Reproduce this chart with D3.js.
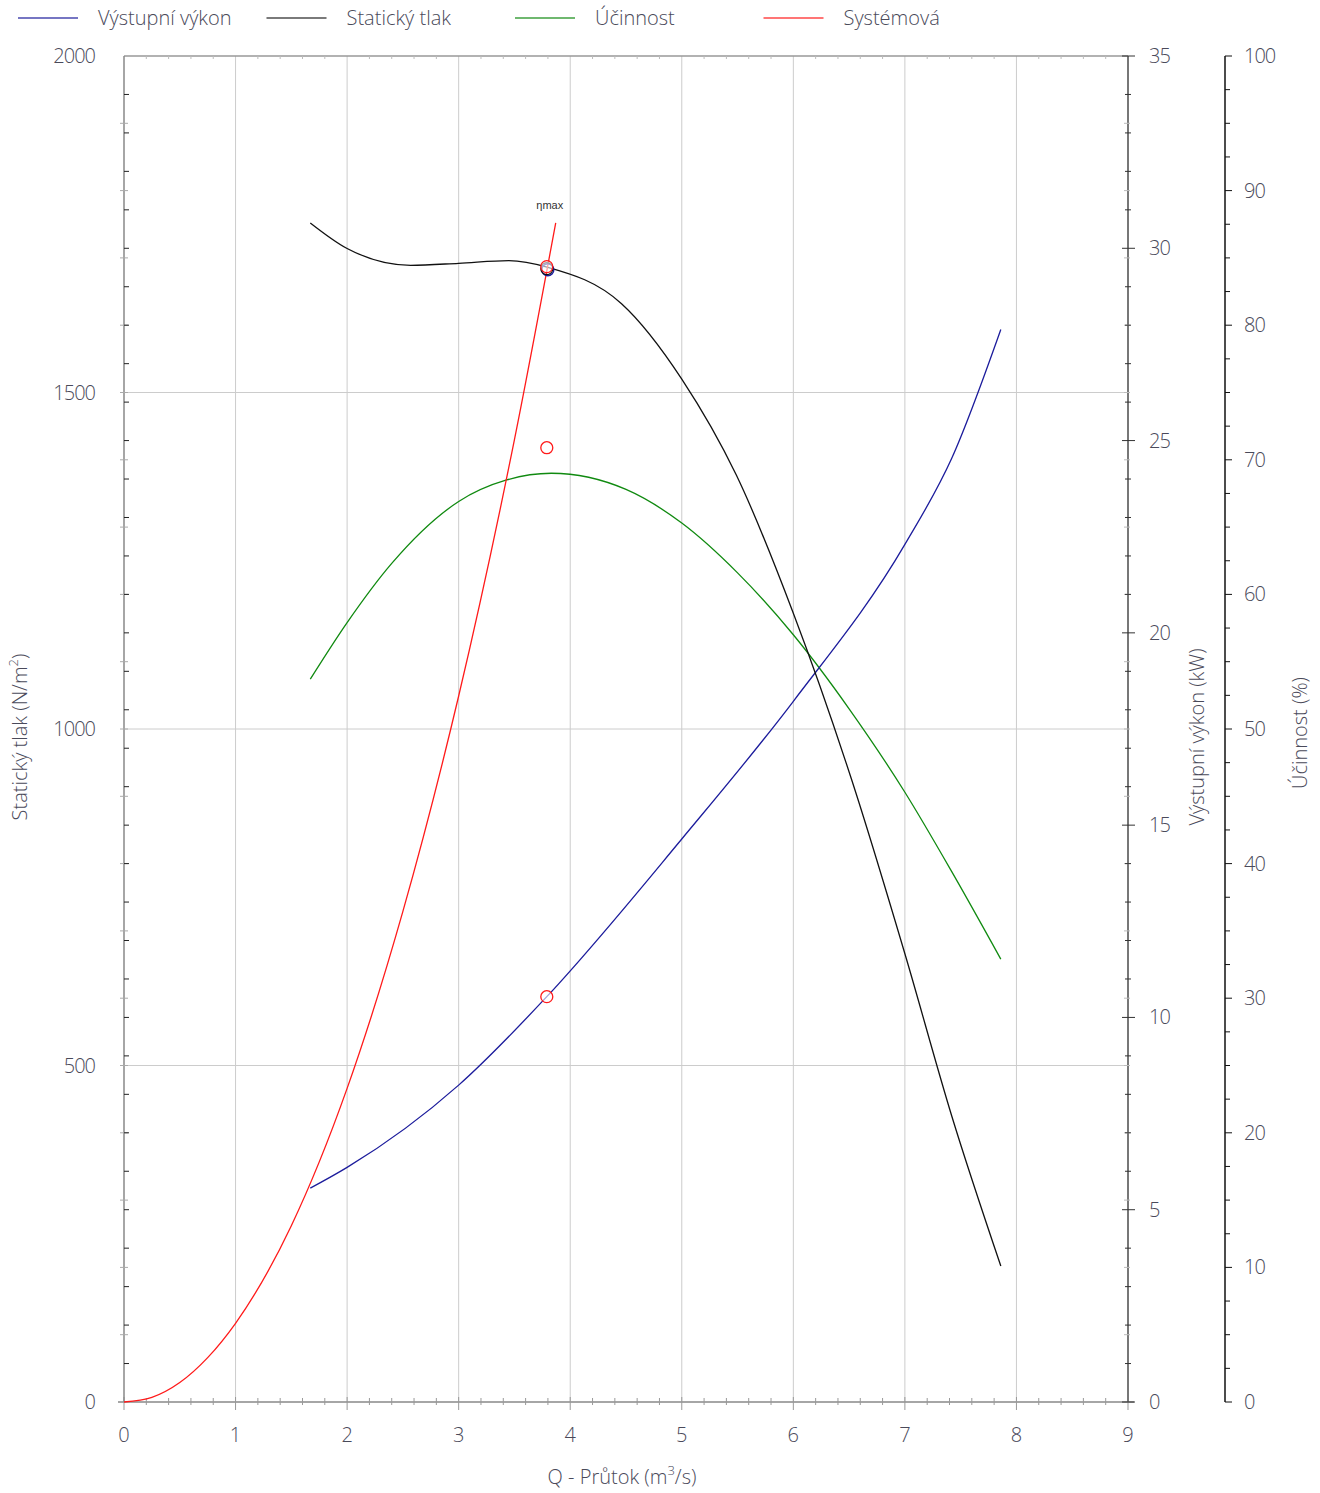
<!DOCTYPE html>
<html>
<head>
<meta charset="utf-8">
<script src="https://cdn.jsdelivr.net/npm/d3@7"></script>
<style>
  html, body { margin: 0; padding: 0; background: #fff; }
  svg { display: block; }
  text { font-family: "Open Sans", "Noto Sans", sans-serif; font-weight: 300; fill: #4a4a5a; }
</style>
</head>
<body>
<svg id="chart" width="1320" height="1493"></svg>
<script>
// Fan performance curves: flow Q (m³/s) on x
const flowPressure = [1.67, 2.0, 2.57, 3.0, 3.45, 3.80, 4.46, 5.0, 5.49, 6.0, 6.52, 7.0, 7.42, 7.86];
const staticPressure = [1752, 1714, 1689, 1692, 1696, 1686, 1632, 1520, 1377, 1172, 926, 666, 425, 202];

const flowPower = [1.67, 2.0, 3.0, 3.79, 5.0, 6.0, 7.0, 7.42, 7.86];
const outputPower = [5.56, 6.10, 8.24, 10.54, 14.64, 18.22, 22.30, 24.54, 27.89];

const flowEff = [1.67, 2.0, 2.4, 3.0, 3.43, 3.83, 4.5, 5.0, 5.5, 6.0, 6.5, 7.0, 7.42, 7.86];
const efficiency = [53.7, 57.9, 62.3, 66.9, 68.5, 69.0, 67.8, 65.3, 61.6, 57.0, 51.5, 45.3, 39.4, 32.9];

// System resistance curve
const flowSystem = [0, 0.25, 0.5, 0.75, 1.0, 1.5, 2.0, 2.5, 3.0, 3.5, 3.87];
const systemPressure = [0, 7, 29, 66, 117, 262, 466, 729, 1049, 1430, 1752];

// Operating point (max efficiency)
const opFlow = 3.79;
const opPressure = 1687;
const opPower = 10.54;
const opEfficiency = 70.9;

const xTicks = [0, 1, 2, 3, 4, 5, 6, 7, 8, 9];
const pressureTicks = [0, 500, 1000, 1500, 2000];
const powerTicks = [0, 5, 10, 15, 20, 25, 30, 35];
const effTicks = [0, 10, 20, 30, 40, 50, 60, 70, 80, 90, 100];

const legendNames = ["Výstupní výkon", "Statický tlak", "Účinnost", "Systémová"];
const legendColors = ["#1c1c9c", "#222222", "#108a10", "#ff1a1a"];

const svg = d3.select("#chart");
const L = 124, R = 1128, T = 56, B = 1402;

const x = d3.scaleLinear().domain([0, 9]).range([L, R]);
const yP = d3.scaleLinear().domain([0, 2000]).range([B, T]);
const yK = d3.scaleLinear().domain([0, 35]).range([B, T]);
const yE = d3.scaleLinear().domain([0, 100]).range([B, T]);

// grid
const grid = svg.append("g");
grid.selectAll("line.v").data(xTicks.filter(d => d > 0 && d < 9)).join("line")
  .attr("x1", d => x(d)).attr("x2", d => x(d)).attr("y1", T).attr("y2", B)
  .attr("stroke", "#cccccc").attr("stroke-width", 1);
grid.selectAll("line.h").data(pressureTicks.filter(d => d > 0 && d < 2000)).join("line")
  .attr("x1", L).attr("x2", R).attr("y1", d => yP(d)).attr("y2", d => yP(d))
  .attr("stroke", "#cccccc").attr("stroke-width", 1);
// top border
svg.append("line").attr("x1", L).attr("x2", R).attr("y1", T).attr("y2", T)
  .attr("stroke", "#999").attr("stroke-width", 1.5);

// bottom axis
const xAxisG = svg.append("g");
xAxisG.append("line").attr("x1", L - 6).attr("x2", R + 6).attr("y1", B).attr("y2", B)
  .attr("stroke", "#888").attr("stroke-width", 1.5);
const xMinor = d3.range(0, 45).map(i => i * 0.2).filter(d => Math.abs(d - Math.round(d)) > 1e-6);
xAxisG.selectAll("line.mn").data(xMinor).join("line")
  .attr("x1", d => x(d)).attr("x2", d => x(d)).attr("y1", B - 4).attr("y2", B + 3)
  .attr("stroke", "#999").attr("stroke-width", 1);
svg.append("g").selectAll("line").data(xMinor).join("line")
  .attr("x1", d => x(d)).attr("x2", d => x(d)).attr("y1", T).attr("y2", T + 3)
  .attr("stroke", "#bbb").attr("stroke-width", 1);
xAxisG.selectAll("line.mj").data(xTicks).join("line")
  .attr("x1", d => x(d)).attr("x2", d => x(d)).attr("y1", B - 5).attr("y2", B + 8)
  .attr("stroke", "#999").attr("stroke-width", 1);
xAxisG.selectAll("text").data(xTicks).join("text")
  .attr("x", d => x(d)).attr("y", B + 40).attr("text-anchor", "middle")
  .attr("font-size", 20).text(d => d);

// left axis
const leftG = svg.append("g");
leftG.append("line").attr("x1", L).attr("x2", L).attr("y1", T).attr("y2", B)
  .attr("stroke", "#888").attr("stroke-width", 1.5);
leftG.selectAll("line.g").data(d3.range(100, 2000, 100)).join("line")
  .attr("x1", L - 4).attr("x2", L + 4).attr("y1", d => yP(d)).attr("y2", d => yP(d))
  .attr("stroke", "#aaa").attr("stroke-width", 1);
leftG.selectAll("line.k").data(d3.range(1, 35)).join("line")
  .attr("x1", L).attr("x2", L + 5).attr("y1", d => yK(d)).attr("y2", d => yK(d))
  .attr("stroke", "#222").attr("stroke-width", 1);
leftG.selectAll("text").data(pressureTicks).join("text")
  .attr("x", 95).attr("y", d => yP(d) + 7).attr("text-anchor", "end")
  .attr("font-size", 20).attr("letter-spacing", -1).text(d => d);

// right power axis
const powG = svg.append("g");
powG.append("line").attr("x1", R).attr("x2", R).attr("y1", T).attr("y2", B)
  .attr("stroke", "#777").attr("stroke-width", 2);
powG.selectAll("line.g").data(d3.range(100, 2000, 100)).join("line")
  .attr("x1", R - 4).attr("x2", R + 2).attr("y1", d => yP(d)).attr("y2", d => yP(d))
  .attr("stroke", "#bbb").attr("stroke-width", 1);
powG.selectAll("line.mn").data(d3.range(0, 36).filter(d => d % 5 !== 0)).join("line")
  .attr("x1", R - 3).attr("x2", R + 3).attr("y1", d => yK(d)).attr("y2", d => yK(d))
  .attr("stroke", "#333").attr("stroke-width", 1);
powG.selectAll("line.mj").data(powerTicks).join("line")
  .attr("x1", R - 6).attr("x2", R + 7).attr("y1", d => yK(d)).attr("y2", d => yK(d))
  .attr("stroke", "#333").attr("stroke-width", 1);
powG.selectAll("text").data(powerTicks).join("text")
  .attr("x", 1149).attr("y", d => yK(d) + 7).attr("text-anchor", "start")
  .attr("font-size", 20).attr("letter-spacing", -1).text(d => d);

// right efficiency axis
const EX = 1225;
const effG = svg.append("g");
effG.append("line").attr("x1", EX).attr("x2", EX).attr("y1", T).attr("y2", B)
  .attr("stroke", "#111").attr("stroke-width", 1.5);
effG.selectAll("line.mn").data(d3.range(0, 101, 2.5).filter(d => d % 10 !== 0)).join("line")
  .attr("x1", EX).attr("x2", EX + 5).attr("y1", d => yE(d)).attr("y2", d => yE(d))
  .attr("stroke", "#111").attr("stroke-width", 1);
effG.selectAll("line.mj").data(effTicks).join("line")
  .attr("x1", EX).attr("x2", EX + 7).attr("y1", d => yE(d)).attr("y2", d => yE(d))
  .attr("stroke", "#111").attr("stroke-width", 1);
effG.selectAll("text").data(effTicks).join("text")
  .attr("x", 1244).attr("y", d => yE(d) + 7).attr("text-anchor", "start")
  .attr("font-size", 20).attr("letter-spacing", -1).text(d => d);

// axis titles
svg.append("text").attr("transform", `translate(27,737) rotate(-90)`)
  .attr("text-anchor", "middle").attr("font-size", 20)
  .html('Statický tlak (N/m<tspan baseline-shift="super" font-size="13">2</tspan>)');
svg.append("text").attr("transform", `translate(1204,737) rotate(-90)`)
  .attr("text-anchor", "middle").attr("font-size", 20).text("Výstupní výkon  (kW)");
svg.append("text").attr("transform", `translate(1307,733) rotate(-90)`)
  .attr("text-anchor", "middle").attr("font-size", 20).text("Účinnost (%)");
svg.append("text").attr("x", 622).attr("y", 1484)
  .attr("text-anchor", "middle").attr("font-size", 20)
  .html('Q - Průtok (m<tspan baseline-shift="super" font-size="13">3</tspan>/s)');

// curves (smooth monotone cubic through the read points)
function drawLine(xs, ys, yScale, color) {
  const pts = xs.map((q, i) => [q, ys[i]]);
  svg.append("path").datum(pts)
    .attr("d", d3.line().x(d => x(d[0])).y(d => yScale(d[1])).curve(d3.curveMonotoneX))
    .attr("fill", "none").attr("stroke", color).attr("stroke-width", 1.3);
}
drawLine(flowEff, efficiency, yE, "#108a10");
drawLine(flowPower, outputPower, yK, "#1c1c9c");
drawLine(flowPressure, staticPressure, yP, "#111111");
drawLine(flowSystem, systemPressure, yP, "#ff1a1a");

// operating point markers
svg.append("circle").attr("cx", x(opFlow) + 1).attr("cy", yP(opPressure) + 3).attr("r", 6)
  .attr("fill", "none").attr("stroke", "#1c1c9c").attr("stroke-width", 1.5);
svg.append("circle").attr("cx", x(opFlow)).attr("cy", yP(opPressure) + 2).attr("r", 6)
  .attr("fill", "none").attr("stroke", "#111").attr("stroke-width", 1.2);
[[yP, opPressure], [yE, opEfficiency], [yK, opPower]].forEach(([s, v]) => {
  svg.append("circle").attr("cx", x(opFlow)).attr("cy", s(v)).attr("r", 6)
    .attr("fill", "#fff").attr("fill-opacity", 0.6).attr("stroke", "#ff1a1a").attr("stroke-width", 1.3);
});
svg.append("text").attr("x", x(opFlow) + 3).attr("y", yP(opPressure) - 58)
  .attr("text-anchor", "middle").attr("font-size", 11)
  .style("font-family", "'Liberation Sans', Arial, sans-serif").style("font-weight", 400)
  .style("fill", "#333").text("ηmax");

// legend
const lg = svg.append("g");
legendNames.forEach((name, i) => {
  const lx = 18 + i * 248.5;
  lg.append("line").attr("x1", lx).attr("x2", lx + 60).attr("y1", 18).attr("y2", 18)
    .attr("stroke", legendColors[i]).attr("stroke-width", 1.3).attr("opacity", 0.8);
  lg.append("text").attr("x", lx + 80).attr("y", 25).attr("font-size", 20).text(name);
});
</script>
</body>
</html>
